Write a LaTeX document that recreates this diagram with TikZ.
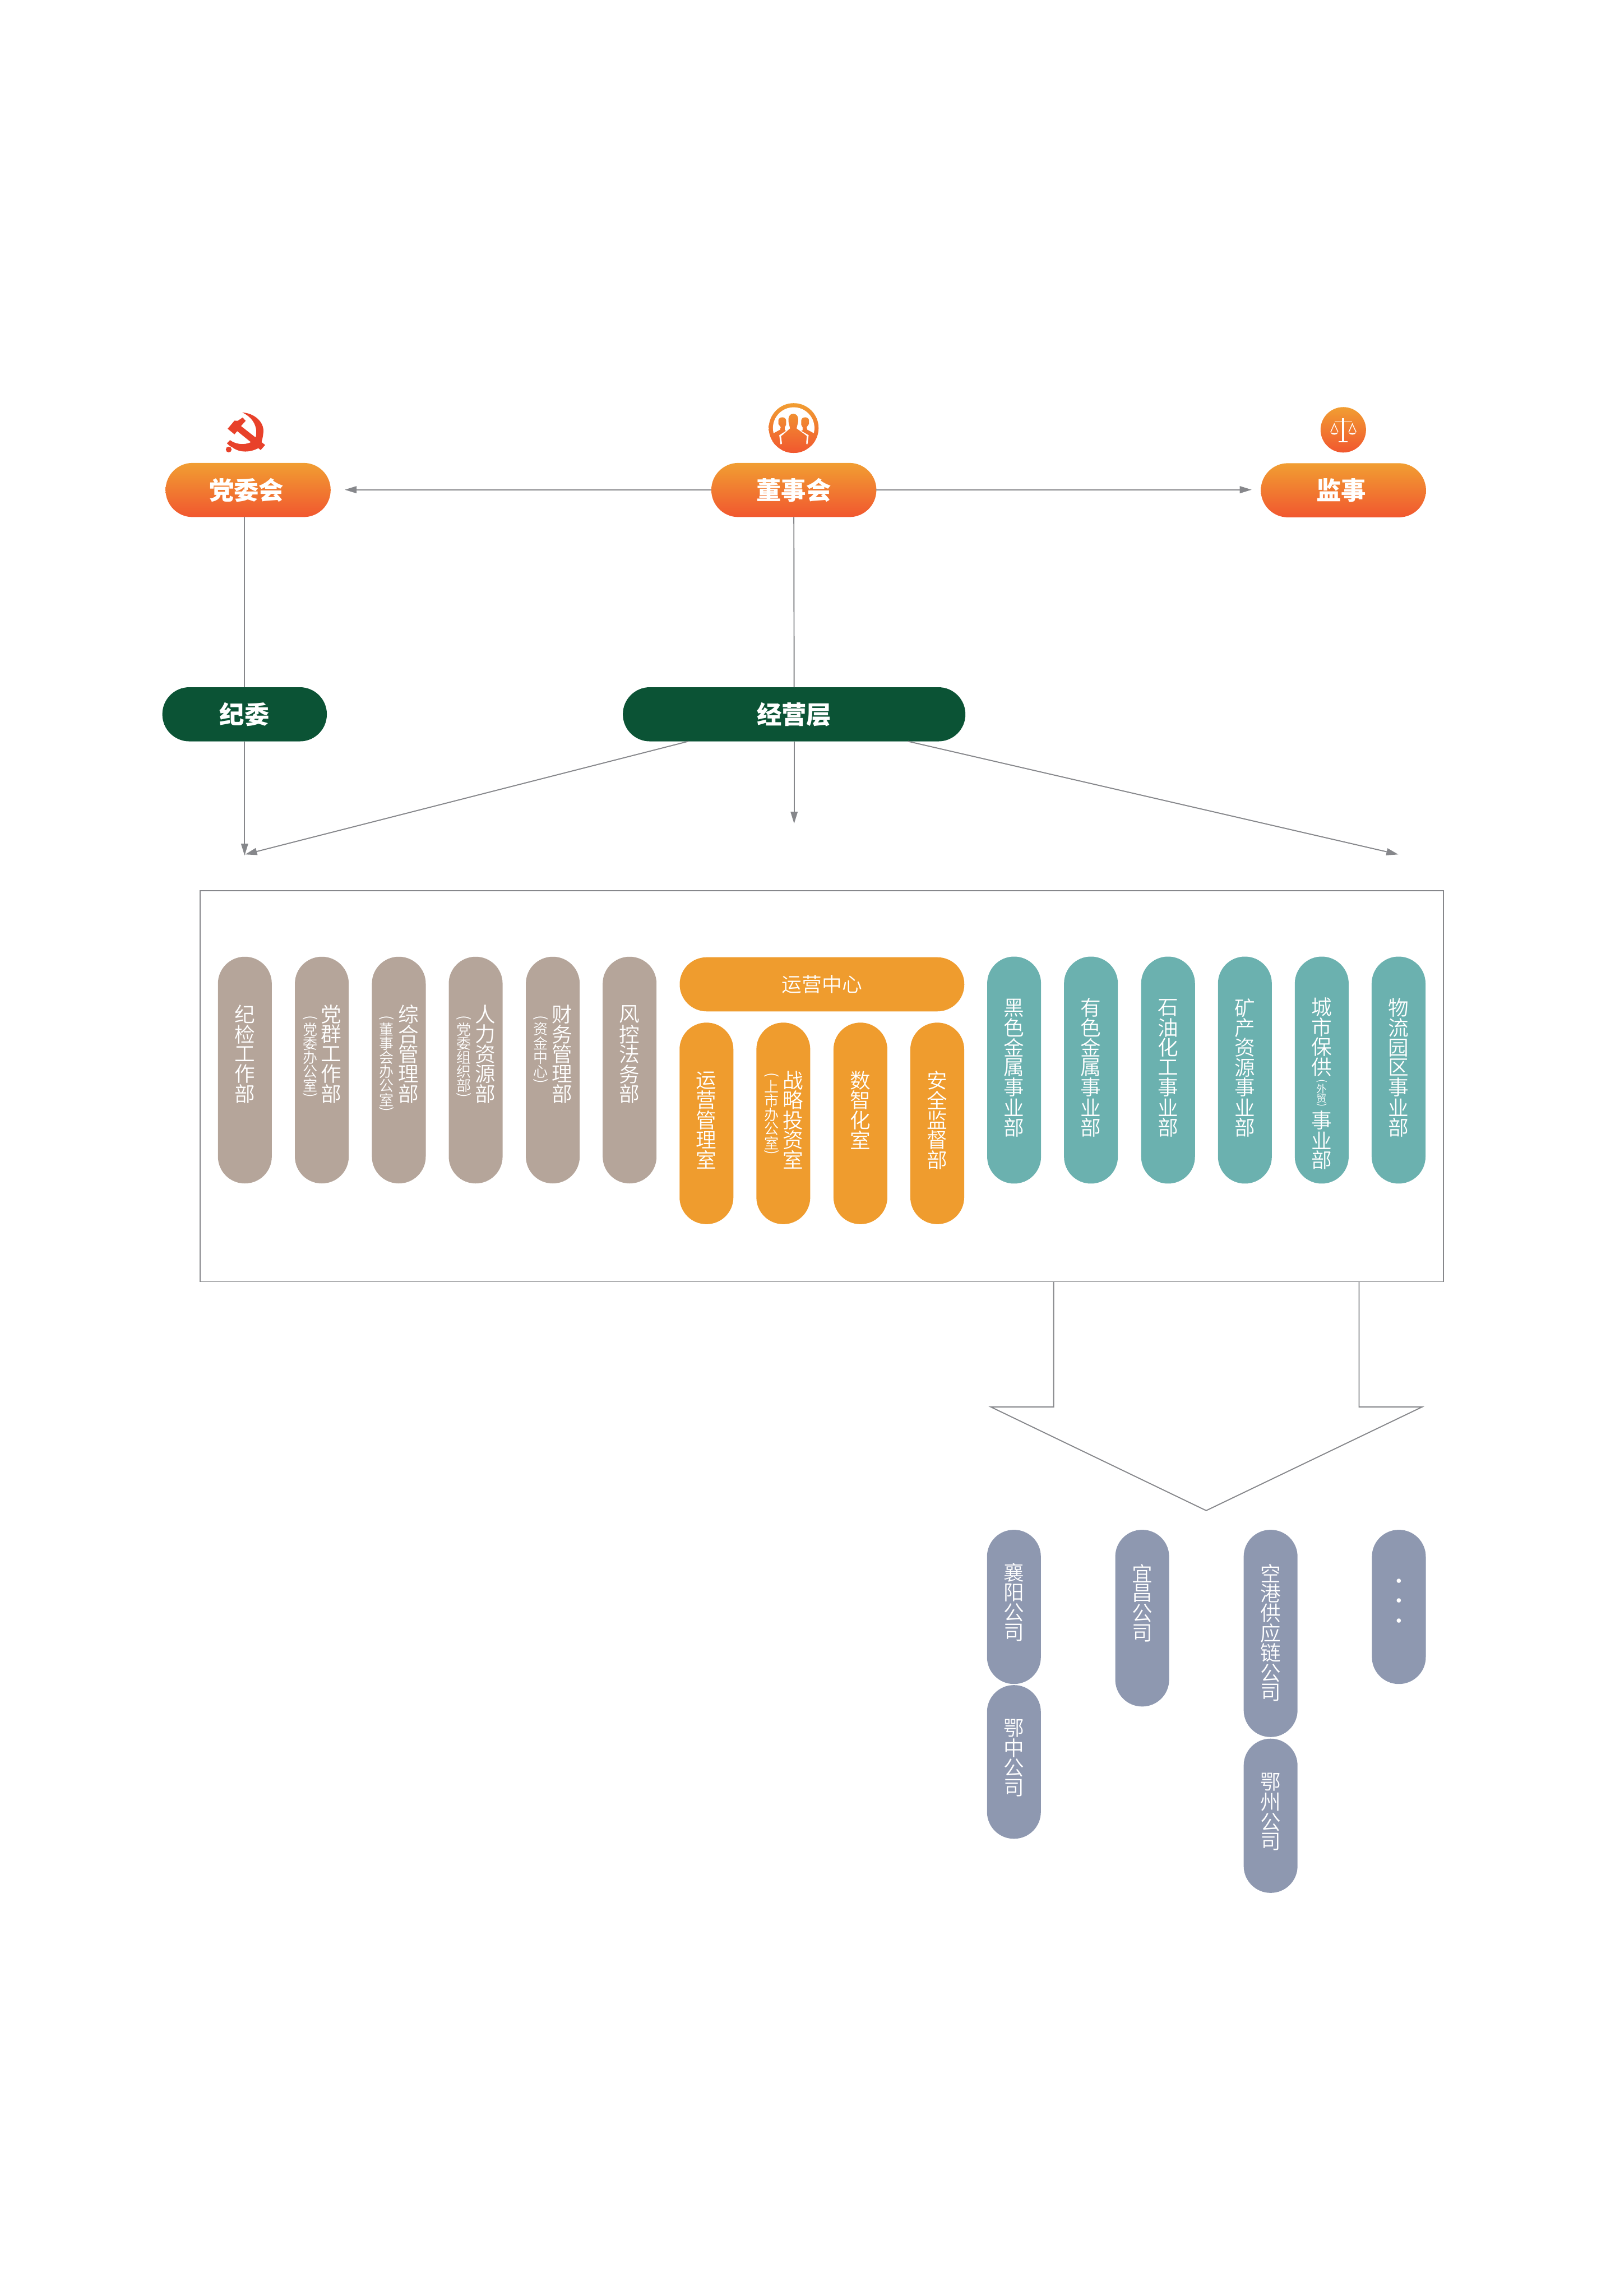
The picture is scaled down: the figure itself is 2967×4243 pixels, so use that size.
\documentclass[tikz,border=0pt]{standalone}
\usepackage{fontspec}
\setmainfont{Noto Sans CJK SC}
\newfontfamily\cjklight{Noto Sans CJK SC DemiLight}
\usetikzlibrary{arrows.meta}
\definecolor{gtop}{HTML}{F19E32}
\definecolor{gbot}{HTML}{F1572F}
\definecolor{taupe}{HTML}{B5A59A}
\definecolor{orng}{HTML}{EF9C2E}
\definecolor{teal2}{HTML}{6BB1AF}
\definecolor{slate}{HTML}{8E98B0}
\definecolor{dgreen}{HTML}{0B5335}
\definecolor{linec}{HTML}{86878B}
\definecolor{redp}{HTML}{E8412A}
\makeatletter
% vertical stack of characters: #1 pitch, #2 text
\newcommand\vsOpen{\rotatebox[origin=c]{-90}{(}}
\newcommand\vsClose{\rotatebox[origin=c]{-90}{)}}
\def\vsO{\vsOpen}
\def\vsC{\vsClose}
\newcommand\vcol[2]{\vbox{\offinterlineskip\hsize=0pt\@tfor\vsc:=#2\do{%
  \ifx\vsc\vsO\def\vsh{.5}\else\ifx\vsc\vsC\def\vsh{.5}\else\def\vsh{1}\fi\fi
  \vbox to \vsh\dimexpr#1\relax{\vss\hbox to 0pt{\hss\vsc\hss}\vss}}}}
\makeatother
\newcommand\mainfs{\cjklight\fontsize{19}{19}\selectfont}
\newcommand\subfs{\cjklight\fontsize{13.5}{13.5}\selectfont}
\newcommand\tinyfs{\cjklight\fontsize{9.5}{9.5}\selectfont}
\newcommand\Main[1]{\mainfs\vcol{18.4pt}{#1}}
\newcommand\Sub[1]{\subfs\vcol{13pt}{\vsOpen #1\vsClose}}
\tikzset{
  x=0.5pt,y=-0.5pt,
  base/.style={rectangle,inner sep=0pt,outer sep=0pt,text=white},
  pill/.style={base,minimum width=49.75pt,rounded corners=24.8pt},
  hpill/.style={base,minimum height=50pt,rounded corners=24.9pt},
  grad/.style={hpill,minimum width=152.5pt,top color=gtop,bottom color=gbot,font=\bfseries\fontsize{23}{23}\selectfont},
  greenp/.style={hpill,fill=dgreen,font=\bfseries\fontsize{23}{23}\selectfont},
  tp/.style={pill,fill=taupe,minimum height=209.5pt},
  op/.style={pill,fill=orng,minimum height=186.25pt},
  gp/.style={pill,fill=teal2,minimum height=209.75pt},
  sp/.style={pill,fill=slate},
  txt/.style={inner sep=0pt,outer sep=0pt,text=white,anchor=north},
  conn/.style={draw=linec,line width=1pt},
  arr/.style={conn,-{Triangle[length=11pt,width=6.5pt]}},
  frame/.style={draw=linec,line width=1pt,fill=none}
}
\begin{document}
\begin{tikzpicture}
\useasboundingbox (0,0) rectangle (2967,4243);
% top row
\node[grad] (dwh) at (458.5,905.5) {\raisebox{2pt}{党委会\hspace*{3pt}}};
\node[grad] (dsh) at (1467,905.5) {\raisebox{2pt}{董事会}};
\node[grad] (js) at (2482.5,906) {\raisebox{2pt}{监事\hspace*{4pt}}};
\node[greenp,minimum width=152pt] (jw) at (452,1320) {纪委};
\node[greenp,minimum width=316.5pt] (jyc) at (1467.5,1320) {经营层};
\coordinate (a1) at (637,905);
\coordinate (a2) at (2313,905);
\coordinate (a3) at (452,1581);
\coordinate (a4) at (453,1579);
\coordinate (a5) at (1467.5,1522);
\coordinate (a6) at (2584,1579);
\coordinate (o4) at (1272,1370);
\coordinate (o6) at (1678,1370);
\draw[arr] (dsh.west |- a1) -- (a1);
\draw[arr] (dsh.east |- a2) -- (a2);
\draw[conn] (dsh.south) -- (jyc.north);
\draw[conn] (jw.north) -- (jw.north |- dwh.south);
\draw[arr] (jw.south) -- (a3);
\draw[arr] (o4) -- (a4);
\draw[arr] (jyc.south) -- (a5);
\draw[arr] (o6) -- (a6);
% frame
\node[frame,base,minimum width=1148.5pt,minimum height=361.4pt] (box) at (1518.5,2007.1) {};
% block arrow
\coordinate (b1) at (1947,2368.5);
\coordinate (b2) at (2511.5,2368.5);
\draw[conn,line join=miter] (b1) -- (1947,2600) -- (1831,2600) -- (2229,2791.5) -- (2628,2600) -- (2511.5,2600) -- (b2);
% taupe
\node[tp] (t1) at (452.5,1977.5) {};
\node[tp] (t2) at (594.7,1977.5) {};
\node[tp] (t3) at (737,1977.5) {};
\node[tp] (t4) at (879,1977.5) {};
\node[tp] (t5) at (1021.5,1977.5) {};
\node[tp] (t6) at (1163.5,1977.5) {};
\node[txt] at (452.5,1856) {\Main{纪检工作部}};
\node[txt] at (612.5,1856) {\Main{党群工作部}};
\node[txt] at (573.5,1876) {\Sub{党委办公室}};
\node[txt] at (755,1856) {\Main{综合管理部}};
\node[txt] at (714.5,1876) {\Sub{董事会办公室}};
\node[txt] at (897,1856) {\Main{人力资源部}};
\node[txt] at (857,1876) {\Sub{党委组织部}};
\node[txt] at (1039,1856) {\Main{财务管理部}};
\node[txt] at (999,1876) {\Sub{资金中心}};
\node[txt] at (1163.5,1856) {\Main{风控法务部}};
% orange
\node[hpill,fill=orng,minimum width=263pt] (o0) at (1519,1819) {\cjklight\fontsize{18.5}{18.5}\selectfont 运营中心};
\node[op] (o1) at (1305.5,2076) {};
\node[op] (o2) at (1447.5,2076) {};
\node[op] (o3) at (1590,2076) {};
\node[op] (o5) at (1732,2076) {};
\node[txt] at (1305.5,1978) {\Main{运营管理室}};
\node[txt] at (1466,1978) {\Main{战略投资室}};
\node[txt] at (1425.5,1982) {\Sub{上市办公室}};
\node[txt] at (1590,1978) {\Main{数智化室}};
\node[txt] at (1732,1978) {\Main{安全监督部}};
% teal
\node[gp] (g1) at (1874,1977.5) {};
\node[gp] (g2) at (2016,1977.5) {};
\node[gp] (g3) at (2158.5,1977.5) {};
\node[gp] (g4) at (2300.5,1977.5) {};
\node[gp] (g5) at (2442.5,1977.5) {};
\node[gp] (g6) at (2584.5,1977.5) {};
\node[txt] at (1874,1844) {\Main{黑色金属事业部}};
\node[txt] at (2016,1844) {\Main{有色金属事业部}};
\node[txt] at (2158.5,1844) {\Main{石油化工事业部}};
\node[txt] at (2300.5,1844) {\Main{矿产资源事业部}};
\node[txt] at (2442.5,1843) {\vbox{\Main{城市保供}\vskip 1pt\tinyfs\vcol{9pt}{\vsOpen 外贸\vsClose}\vskip 1pt\Main{事业部}}};
\node[txt] at (2584.5,1844) {\Main{物流园区事业部}};
% companies
\node[sp,minimum height=142.5pt] (c1) at (1873.7,2969.5) {};
\node[sp,minimum height=142pt] (c2) at (1873.7,3256) {};
\node[sp,minimum height=163.3pt] (c3) at (2110.7,2990.3) {};
\node[sp,minimum height=191.5pt] (c4) at (2348,3018.5) {};
\node[sp,minimum height=142.5pt] (c5) at (2348,3355.5) {};
\node[sp,minimum height=142.5pt] (c6) at (2585,2969.5) {};
\node[txt] at (1873.7,2888) {\Main{襄阳公司}};
\node[txt] at (1873.7,3175) {\Main{鄂中公司}};
\node[txt] at (2110.7,2889) {\Main{宜昌公司}};
\node[txt] at (2348,2889) {\Main{空港供应链公司}};
\node[txt] at (2348,3275) {\Main{鄂州公司}};
\node[txt] at (2585,2908.5) {\Main{···}};
% party emblem
\begin{scope}[shift={(380,730)},x=0.1667pt,y=-0.1667pt]
\fill[redp] (122,187) -- (160,142) -- (178,143) -- (205,125) -- (222,143) -- (196,172) -- (330,277) -- (305,305) -- (175,200) -- (160,218) -- cycle;
\fill[redp] (203,97) .. controls (270,100) and (325,150) .. (320,205) .. controls (318,235) and (312,250) .. (308,268) -- (300,290) .. controls (250,320) and (190,322) .. (148,290) -- (135,283) -- (118,268) -- (135,250) .. controls (165,272) and (210,280) .. (250,262) -- (278,232) .. controls (290,180) and (265,125) .. (203,97) -- cycle;
\fill[redp] (128,302) circle[radius=16];
\end{scope}
% people icon
\begin{scope}[shift={(1400,730)},x=0.1667pt,y=-0.1667pt]
\shade[top color=gtop,bottom color=gbot] (200,183) circle[radius=138];
\begin{scope}
\clip (0,0) rectangle (400,212);
\fill[white] (200,183) circle[radius=115];
\end{scope}
\begin{scope}
\clip (88,212) -- (125,192) -- (128,178) -- (115,160) -- (115,140) .. controls (118,118) and (155,118) .. (158,140) -- (158,165) -- (150,180) -- (150,195) -- (170,205) -- (130,225) -- (130,280) -- (80,280) -- cycle
 (312,212) -- (275,192) -- (272,178) -- (285,160) -- (285,140) .. controls (282,118) and (245,118) .. (242,140) -- (242,165) -- (250,180) -- (250,195) -- (230,205) -- (270,225) -- (270,280) -- (320,280) -- cycle;
\shade[top color=gtop,bottom color=gbot] (200,183) circle[radius=138];
\end{scope}
\draw[white,line width=1.5pt] (131,272) -- (125,225) -- (172,195) -- (172,140) -- (226,140) -- (226,195) -- (278,225) -- (272,272);
\begin{scope}
\clip (198,104) .. controls (232,104) and (226,150) .. (222,160) -- (216,185) -- (270,225) -- (270,330) -- (135,330) -- (135,225) -- (180,185) -- (174,160) .. controls (170,150) and (164,104) .. (198,104) -- cycle;
\shade[top color=gtop,bottom color=gbot] (200,183) circle[radius=138];
\end{scope}
\end{scope}
% scales icon
\shade[top color=gtop,bottom color=gbot] (2482.3,794.3) circle[radius=42];
\begin{scope}[shift={(2330,700)},x=0.1667pt,y=-0.1667pt]
\fill[white] (451,217) rectangle (463,350);
\fill[white] (432,346) rectangle (482,352);
\fill[white] (408,236) rectangle (506,241);
\draw[white,line width=0.7pt] (387,296) -- (407,250) -- (428,296);
\draw[white,line width=0.7pt] (487,296) -- (507,250) -- (528,296);
\fill[white] (386,297) .. controls (390,314) and (424,314) .. (428,297) .. controls (415,302) and (400,302) .. (386,297) -- cycle;
\fill[white] (486,297) .. controls (490,314) and (524,314) .. (528,297) .. controls (515,302) and (500,302) .. (486,297) -- cycle;
\end{scope}
\end{tikzpicture}
\end{document}
